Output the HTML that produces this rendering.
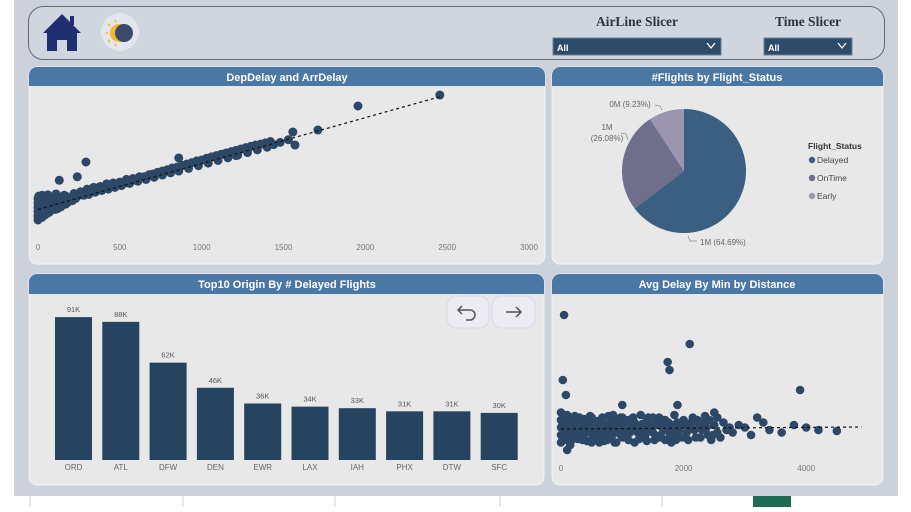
<!DOCTYPE html>
<html><head><meta charset="utf-8">
<style>
body{margin:0;width:911px;height:507px;overflow:hidden;background:#fff;font-family:"Liberation Sans",sans-serif;}
svg text{font-family:"Liberation Sans",sans-serif;}
</style></head>
<body>
<svg id="root" width="911" height="507" viewBox="0 0 911 507" xmlns="http://www.w3.org/2000/svg">
<rect x="14" y="0" width="884" height="496" fill="#ccd2db"/>
<g stroke="#d0d0d0" stroke-width="1">
<line x1="30" y1="496" x2="30" y2="507"/><line x1="183" y1="496" x2="183" y2="507"/><line x1="335" y1="496" x2="335" y2="507"/><line x1="500" y1="496" x2="500" y2="507"/><line x1="662" y1="496" x2="662" y2="507"/>
</g>
<rect x="753" y="496" width="38" height="11" fill="#1e6b55"/>
<rect x="28.5" y="6.5" width="856" height="53" rx="15" fill="#d0d6de" stroke="#5d6b80" stroke-width="1"/>
<g>
<path d="M62 14 L43 33 L47 33 L47 51 L57 51 L57 40 L67 40 L67 51 L77 51 L77 33 L81 33 Z" fill="#1f2f72"/>
<rect x="70" y="16" width="4" height="9" fill="#1f2f72"/>
</g>
<g>
<circle cx="120" cy="32" r="19" fill="#e4e6ee"/>
<circle cx="119" cy="33" r="9" fill="#f5b52e"/>
<circle cx="124" cy="33" r="9" fill="#3b4a6b"/>
<g stroke="#f5b52e" stroke-width="1.6"><line x1="106" y1="33" x2="108" y2="33"/><line x1="108" y1="24" x2="110" y2="26"/><line x1="108" y1="42" x2="110" y2="40"/><line x1="115" y1="20" x2="116" y2="22"/><line x1="115" y1="46" x2="116" y2="44"/></g>
</g>
<text x="637" y="26" text-anchor="middle" style="font-family:'Liberation Serif',serif" font-weight="bold" font-size="13.5" fill="#2b3545">AirLine Slicer</text>
<g>
<rect x="553" y="38" width="168" height="17" fill="#2d4a68" stroke="#6d7f94"/>
<text x="557" y="51" font-size="9" fill="#fff" font-weight="bold">All</text>
<path d="M707 43 L711 48 L715 43" stroke="#fff" fill="none" stroke-width="1.3"/>
</g>
<text x="808" y="26" text-anchor="middle" style="font-family:'Liberation Serif',serif" font-weight="bold" font-size="13.5" fill="#2b3545">Time Slicer</text>
<g>
<rect x="764" y="38" width="88" height="17" fill="#2d4a68" stroke="#6d7f94"/>
<text x="768" y="51" font-size="9" fill="#fff" font-weight="bold">All</text>
<path d="M838 43 L842 48 L846 43" stroke="#fff" fill="none" stroke-width="1.3"/>
</g>
<g>
<rect x="29" y="67" width="516" height="197" rx="8" fill="#e8e8e8" stroke="#f3f3f5"/>
<path d="M29 86 V75 a8 8 0 0 1 8 -8 H537 a8 8 0 0 1 8 8 V86 Z" fill="#4b77a4"/>
<text x="287" y="81" text-anchor="middle" font-size="11" font-weight="bold" fill="#fff">DepDelay and ArrDelay</text>
</g>
<g>
<rect x="552" y="67" width="331" height="197" rx="8" fill="#e8e8e8" stroke="#f3f3f5"/>
<path d="M552 86 V75 a8 8 0 0 1 8 -8 H875 a8 8 0 0 1 8 8 V86 Z" fill="#4b77a4"/>
<text x="717" y="81" text-anchor="middle" font-size="11" font-weight="bold" fill="#fff">#Flights by Flight_Status</text>
</g>
<g>
<rect x="29" y="274" width="515" height="211" rx="8" fill="#e8e8e8" stroke="#f3f3f5"/>
<path d="M29 294 V282 a8 8 0 0 1 8 -8 H536 a8 8 0 0 1 8 8 V294 Z" fill="#4b77a4"/>
<text x="287" y="288" text-anchor="middle" font-size="11" font-weight="bold" fill="#fff">Top10 Origin By # Delayed Flights</text>
</g>
<g>
<rect x="552" y="274" width="331" height="211" rx="8" fill="#e8e8e8" stroke="#f3f3f5"/>
<path d="M552 294 V282 a8 8 0 0 1 8 -8 H875 a8 8 0 0 1 8 8 V294 Z" fill="#4b77a4"/>
<text x="717" y="288" text-anchor="middle" font-size="11" font-weight="bold" fill="#fff">Avg Delay By Min by Distance</text>
</g>
<g id="sc1"></g>
<g id="pie"></g>
<g id="bars"></g>
<g id="sc2"></g>
<g>
<rect x="447" y="296" width="42" height="32" rx="10" fill="#ececf2" stroke="#d6d8ea"/>
<path d="M462 306 L458 310 L462 314 M458 310 H470 a5 5 0 0 1 0 10 H466" stroke="#555" fill="none" stroke-width="1.5"/>
</g>
<g>
<rect x="492" y="296" width="43" height="32" rx="10" fill="#ececf2" stroke="#d6d8ea"/>
<path d="M506 312 H521 M516 307 L521 312 L516 317" stroke="#555" fill="none" stroke-width="1.5"/>
</g>
</svg>
<script>
const NS="http://www.w3.org/2000/svg";
function mk(p,t,a){const e=document.createElementNS(NS,t);for(const k in a)e.setAttribute(k,a[k]);p.appendChild(e);return e;}
// ---- Chart 1 data ----
const depDelay=[0,0,0,0,0,0,10,10,10,20,20,20,30,30,40,40,50,60,60,70,80,90,100,110,120,130,150,160,180,200,220,240,260,280,300,320,340,360,380,400,420,440,460,480,500,520,540,560,580,600,620,650,680,700,730,760,790,820,850,880,910,940,970,1000,1030,1060,1090,1120,1150,1180,1210,1240,1270,1300,1330,1360,1390,1420,293,240,130,860,1210,1557,1570,1530,1710,1955,2455,
5,5,5,5,5,5,15,15,15,15,15,25,25,25,35,35,45,45,45,55,55,70,70,85,85,105,105,125,140,140,170,170,190,210,230,270,310,350,390,430,470,510,560,610,660,710,760,810,860,920,980,1040,1100,1160,1220,1280,1340,1400,1440,1480];
const arrDelay=[-340,-250,-150,-50,50,150,-300,-100,100,-200,0,180,-250,120,-100,200,50,-180,230,80,-50,150,20,250,-80,180,60,220,110,150,260,200,300,220,360,300,400,350,420,380,480,420,500,450,520,480,580,520,600,560,640,640,690,700,740,770,800,840,860,900,930,960,1000,1020,1060,1090,1120,1150,1180,1210,1240,1270,1300,1330,1360,1380,1410,1440,975,640,560,1066,1120,1655,1360,1480,1700,2245,2494,
-300,-200,-100,0,100,200,-250,-150,-50,50,150,-280,-30,220,-180,60,-220,0,160,-120,100,-160,180,-60,140,-100,200,40,-40,160,20,200,80,100,150,230,240,290,330,360,400,440,490,540,580,630,680,730,770,830,890,950,1010,1070,1130,1190,1250,1310,1370,1420];
const sc1XTicks=[0,500,1000,1500,2000,2500,3000];
const sc1Trend=[[0,-100],[2470,2470]];
const x1=v=>38+v*(491/3000), y1=v=>205-v*0.0441;
const g1=document.getElementById('sc1');
depDelay.forEach((d,i)=>{const c=mk(g1,'circle',{cx:x1(d),cy:y1(arrDelay[i]),r:4.5,fill:'#2c4866'});

});
const l1=mk(g1,'line',{x1:x1(sc1Trend[0][0]),y1:y1(sc1Trend[0][1]),x2:x1(sc1Trend[1][0]),y2:y1(sc1Trend[1][1]),stroke:'#111','stroke-width':1.2,'stroke-dasharray':'3,3'});


sc1XTicks.forEach(t=>{const e=mk(g1,'text',{x:x1(t),y:250,'text-anchor':'middle','font-size':8,fill:'#777'});e.textContent=t;

});
// ---- Pie ----
const pieLabels=['Delayed','OnTime','Early'];
const pieValues=[64.69,26.08,9.23];
const pieText=['1M (64.69%)','1M (26.08%)','0M (9.23%)'];
const pieColors=['#3a5f80','#6f6f8c','#9b95b0'];
const gp=document.getElementById('pie');const cx=684,cy=171,R=62;
let acc=0;const tot=pieValues.reduce((a,b)=>a+b,0);
pieValues.forEach((v,i)=>{const a0=acc/tot*2*Math.PI;acc+=v;const a1=acc/tot*2*Math.PI;
const p=(a)=>[cx+R*Math.sin(a),cy-R*Math.cos(a)];const s=p(a0),e=p(a1);
const s1=mk(gp,'path',{d:`M${cx} ${cy} L${s[0]} ${s[1]} A${R} ${R} 0 ${a1-a0>Math.PI?1:0} 1 ${e[0]} ${e[1]} Z`,fill:pieColors[i]});

});
const lbl=[[700,245,'start'],[607,130,'middle'],[630,107,'middle']];
pieText.forEach((t,i)=>{const e=mk(gp,'text',{x:lbl[i][0],y:lbl[i][1],'text-anchor':lbl[i][2],'font-size':8,fill:'#666'});


if(i===1){e.innerHTML='<tspan x="607">1M</tspan><tspan x="607" dy="11">(26.08%)</tspan>';}else e.textContent=t;});
mk(gp,'path',{d:'M688 236 L690 241 L697 241',stroke:'#888',fill:'none','stroke-width':0.7});
mk(gp,'path',{d:'M621 133 L626 134 L628 140',stroke:'#888',fill:'none','stroke-width':0.7});
mk(gp,'path',{d:'M655 105 L660 106 L662 110',stroke:'#888',fill:'none','stroke-width':0.7});
const lt=mk(gp,'text',{x:808,y:149,'font-size':8.5,'font-weight':'bold',fill:'#333'});lt.textContent='Flight_Status';


pieLabels.forEach((n,i)=>{const y=160+i*18;mk(gp,'circle',{cx:812,cy:y,r:3.2,fill:pieColors[i]});
const e=mk(gp,'text',{x:817,y:y+3,'font-size':8.5,fill:'#444'});e.textContent=n;

});
// ---- Bars ----
const origins=['ORD','ATL','DFW','DEN','EWR','LAX','IAH','PHX','DTW','SFC'];
const delayedK=[91,88,62,46,36,34,33,31,31,30];
const gb=document.getElementById('bars');
const bx=i=>55+i*47.3, by=v=>460-v*1.57;
origins.forEach((o,i)=>{const v=delayedK[i];
const r=mk(gb,'rect',{x:bx(i),y:by(v),width:37,height:460-by(v),fill:'#26435f'});


const t=mk(gb,'text',{x:bx(i)+18.5,y:by(v)-5,'text-anchor':'middle','font-size':7.5,fill:'#555'});t.textContent=v+'K';


const c=mk(gb,'text',{x:bx(i)+18.5,y:470,'text-anchor':'middle','font-size':8,fill:'#666'});c.textContent=o;

});
// ---- Chart 4 ----
const distance=[0,0,0,0,0,50,50,100,100,150,150,200,200,250,300,300,350,400,400,450,500,500,550,600,600,650,700,700,750,800,800,850,900,900,950,1000,1000,1050,1100,1100,1150,1200,1200,1250,1300,1300,1350,1400,1400,1450,1500,1500,1550,1600,1600,1650,1700,1700,1750,1800,1800,1850,1900,1900,1950,2000,2050,2100,2150,2200,2250,2300,2350,2400,2450,2500,2550,2650,2700,2800,2900,3000,3100,3300,3400,3600,3800,4000,4200,4500,50,2100,1740,1770,30,80,1900,3900,2500,3200,100,1000,
25,25,75,75,125,125,175,175,225,225,275,275,325,375,375,425,425,475,475,525,525,575,625,625,675,675,725,775,775,825,825,875,875,925,975,975,1025,1075,1075,1125,1175,1225,1275,1325,1375,1425,1475,1525,1575,1625,1675,1725,1775,1825,1875,1925,1975,2025,2075,2125,2175,2225,2275,2325,2375,2425,2475,2550,2600,2750];
const avgDelay=[5,20,35,50,65,10,45,60,25,35,0,15,55,40,25,55,10,45,30,50,5,55,35,20,48,50,30,8,10,45,20,60,25,5,40,15,55,30,10,50,35,45,5,25,60,15,30,50,8,40,25,55,40,15,55,35,10,50,45,30,5,60,20,45,40,50,25,35,55,15,40,30,58,20,10,40,25,45,30,25,40,35,20,45,30,25,40,35,30,28,260,202,166,150,130,100,80,110,65,55,-10,80,
15,40,30,55,20,48,10,40,28,58,12,45,35,20,52,8,38,25,58,15,45,30,5,38,20,55,42,28,58,15,38,5,48,30,20,55,40,15,45,25,55,35,12,42,20,55,30,10,45,20,50,30,20,40,10,30,15,40,10,45,30,50,15,45,35,50,20,55,15,35];
const sc2XTicks=[0,2000,4000];
const sc2Trend=[[0,32],[4900,36]];
const x2=v=>561+v*0.0613, y2=v=>445-v*0.5;
const g2=document.getElementById('sc2');
distance.forEach((d,i)=>{const c=mk(g2,'circle',{cx:x2(d),cy:y2(avgDelay[i]),r:4.3,fill:'#2c4866'});

});
const l2=mk(g2,'line',{x1:x2(sc2Trend[0][0]),y1:y2(sc2Trend[0][1]),x2:x2(sc2Trend[1][0]),y2:y2(sc2Trend[1][1]),stroke:'#111','stroke-width':1.2,'stroke-dasharray':'3,3'});


sc2XTicks.forEach(t=>{const e=mk(g2,'text',{x:x2(t),y:471,'text-anchor':'middle','font-size':8,fill:'#777'});e.textContent=t;

});
</script>
</body></html>
